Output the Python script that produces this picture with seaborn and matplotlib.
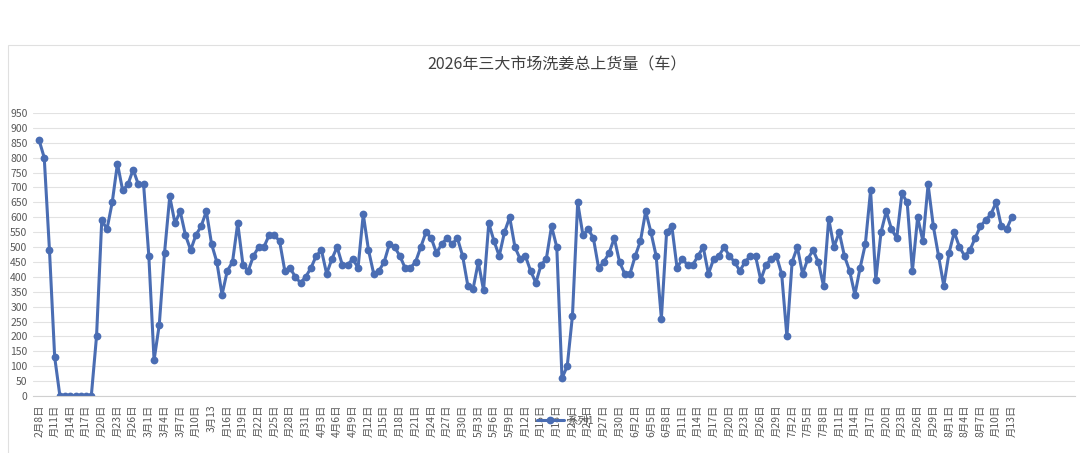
import matplotlib
matplotlib.use("Agg")
import matplotlib.pyplot as plt
from matplotlib.patches import Rectangle
import seaborn as sns
import pandas as pd

# ---------------- data ----------------
title = "2026年三大市场洗姜总上货量（车）"
series_name = "系列1"

values = [
    860, 800, 490, 130, 0, 0, 0, 0, 0, 0, 0, 200, 590, 560, 650, 780, 690, 710, 760, 710, 710, 470,
    120, 240, 480, 670, 580, 620, 540, 490, 540, 570, 620, 510, 450, 340, 420, 450, 580, 440, 420, 470, 500, 500,
    540, 540, 520, 420, 430, 400, 380, 400, 430, 470, 490, 410, 460, 500, 440, 440, 460, 430, 610, 490, 410, 420,
    450, 510, 500, 470, 430, 430, 450, 500, 550, 530, 480, 510, 530, 510, 530, 470, 370, 360, 450, 355, 580, 520, 470,
    550, 600, 500, 460, 470, 420, 380, 440, 460, 570, 500, 60, 100, 270, 650, 540, 560, 530, 430, 450, 480, 530,
    450, 410, 410, 470, 520, 620, 550, 470, 260, 550, 570, 430, 460, 440, 440, 470, 500, 410, 460, 470, 500, 470,
    450, 420, 450, 470, 470, 390, 440, 460, 470, 410, 200, 450, 500, 410, 460, 490, 450, 370, 595, 500, 550, 470, 420,
    340, 430, 510, 690, 390, 550, 620, 560, 530, 680, 650, 420, 600, 520, 710, 570, 470, 370, 480, 550, 500, 470, 490,
    530, 570, 590, 610, 650, 570, 560, 600,
]

# tick labels as they appear (clipped) in the reference, one every 3 days
tick_labels = [
    "2月8日", "月11日", "月14日", "月17日", "月20日", "月23日", "月26日",
    "3月1日", "3月4日", "3月7日", "月10日", "3月13", "月16日", "月19日", "月22日", "月25日", "月28日", "月31日",
    "4月3日", "4月6日", "4月9日", "月12日", "月15日", "月18日", "月21日", "月24日", "月27日", "月30日",
    "5月3日", "5月6日", "5月9日", "月12日", "月15日", "月18日", "月21日", "月24日", "月27日", "月30日",
    "6月2日", "6月5日", "6月8日", "月11日", "月14日", "月17日", "月20日", "月23日", "月26日", "月29日",
    "7月2日", "7月5日", "7月8日", "月11日", "月14日", "月17日", "月20日", "月23日", "月26日", "月29日",
    "8月1日", "8月4日", "8月7日", "月10日", "月13日",
]
tick_step = 3
total_slots = 199          # category slots on the axis (data fills the first ones)
y_ticks = list(range(0, 951, 50))

# ---------------- style ----------------
sns.set_theme(style="white")
plt.rcParams["font.family"] = ["Noto Sans CJK SC", "DejaVu Sans"]

W, H = 1080, 453
fig = plt.figure(figsize=(W / 100, H / 100), dpi=100)
fig.patch.set_facecolor("white")

left_px, right_px = 33, 1075
top_px, bottom_px = 113, 396
ax = fig.add_axes([left_px / W, 1 - bottom_px / H,
                   (right_px - left_px) / W, (bottom_px - top_px) / H])

df = pd.DataFrame({"idx": list(range(len(values))), "val": values, "series": series_name})
color = "#4A6DB3"
sns.lineplot(data=df, x="idx", y="val", hue="series", palette=[color], ax=ax,
             marker="o", markersize=5.6, markeredgewidth=0, linewidth=2.2, legend=True)

# axes ranges
spacing = 5.23
ax.set_xlim(-(39 - left_px) / spacing, (right_px - 39) / spacing)
ax.set_ylim(0, 950)

# y axis
ax.set_yticks(y_ticks)
ax.set_yticklabels([str(v) for v in y_ticks], fontsize=7.5, color="#595959")
ax.yaxis.grid(True, color="#e2e2e2", linewidth=0.8)
ax.xaxis.grid(False)
ax.tick_params(axis="y", length=0, pad=4)

# x axis
ax.set_xticks([i * tick_step for i in range(len(tick_labels))])
ax.set_xticklabels(tick_labels, rotation=90, fontsize=7.5, color="#595959")
ax.set_xticks(list(range(total_slots)), minor=True)
ax.tick_params(axis="x", which="both", length=4, width=0.6, color="#cfcfcf", pad=2, direction="out")
ax.set_xlabel("")
ax.set_ylabel("")

for side in ["top", "right", "left"]:
    ax.spines[side].set_visible(False)
ax.spines["bottom"].set_color("#d0d0d0")
ax.spines["bottom"].set_linewidth(0.8)

# title
fig.text(557 / W, 1 - 65 / H, title, ha="center", va="center", fontsize=11.5, color="#404040")

# legend (sits over the tick labels, as in the reference)
handles, labels = ax.get_legend_handles_labels()
ax.get_legend().remove()
leg = fig.legend(handles, labels, loc="center", bbox_to_anchor=(565 / W, 1 - 421 / H),
                 frameon=False, fontsize=7.5, handlelength=2.6, handletextpad=0.3)
for t in leg.get_texts():
    t.set_color("#595959")

# chart area border
fig.patches.append(Rectangle((8 / W, -0.02), 1.05, 1 - 45 / H + 0.02, transform=fig.transFigure,
                             fill=False, edgecolor="#e0e0e0", linewidth=0.8))

fig.savefig("out.png", dpi=100, facecolor="white")
